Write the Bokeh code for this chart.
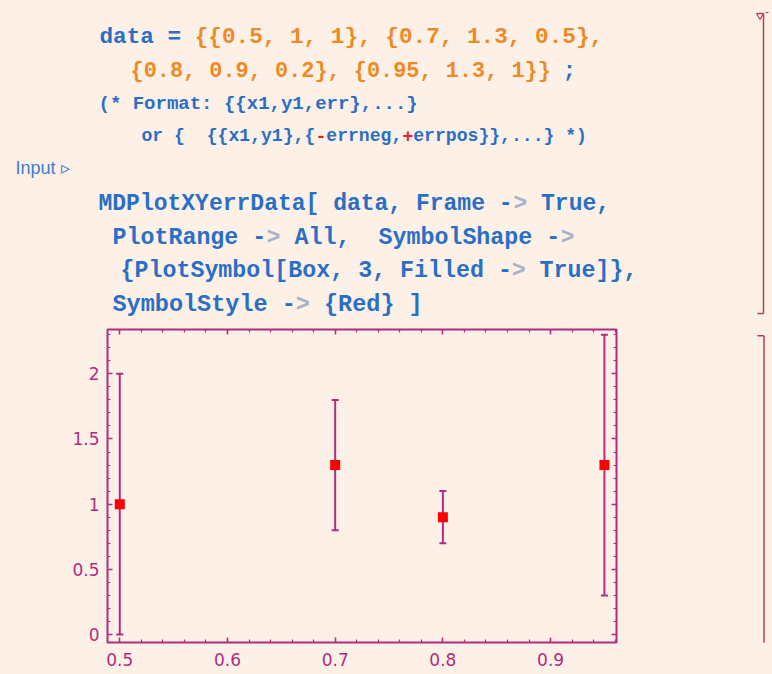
import re
import numpy as np
from bokeh.plotting import figure
from bokeh.layouts import column, row
from bokeh.models import (Range1d, FixedTicker, LinearAxis, Whisker, TeeHead, ColumnDataSource,
                          CustomJSTickFormatter)
from bokeh.core.properties import value
from bokeh.embed import file_html
from bokeh.resources import INLINE

# ---------------- data ----------------
x_vals = [0.5, 0.7, 0.8, 0.95]
y_vals = [1.0, 1.3, 0.9, 1.3]
err_vals = [1.0, 0.5, 0.2, 1.0]

x_ticks = [0.5, 0.6, 0.7, 0.8, 0.9]
x_tick_labels = ["0.5", "0.6", "0.7", "0.8", "0.9"]
y_ticks = [0, 0.5, 1, 1.5, 2]
y_tick_labels = ["0", "0.5", "1", "1.5", "2"]

# ---------------- colours ----------------
BG = "#FDF1E7"
MAG = "#B02C80"
BLUE = "#2A6FC4"
ORANGE = "#EE8A26"
GRAY = "#A7B3C6"
RED = "#E8202A"
BRK = "#B0405A"

# ---------------- code text of the notebook cell ----------------
code_lines = [
    # (x start, baseline, char width, font size, segments)
    (99, 36, 13.6, 22.7, [("data = ", BLUE), ("{{0.5, 1, 1}, {0.7, 1.3, 0.5},", ORANGE)]),
    (130, 71, 13.1, 21.9, [("{0.8, 0.9, 0.2}, {0.95, 1.3, 1}}", ORANGE), (" ;", BLUE)]),
    (98, 103, 11.4, 19.0, [("(* Format: {{x1,y1,err},...}", BLUE)]),
    (141, 135, 10.87, 18.1, [("or {  {{x1,y1},{", BLUE), ("-", RED), ("errneg,", BLUE),
                             ("+", RED), ("errpos}},...} *)", BLUE)]),
    (98, 203, 13.83, 23.0, [("MDPlotXYerrData[ data, Frame -", BLUE), (">", GRAY), (" True,", BLUE)]),
    (112, 237, 14.0, 23.3, [("PlotRange -", BLUE), (">", GRAY), (" All,  SymbolShape -", BLUE), (">", GRAY)]),
    (120, 270, 13.97, 23.3, [("{PlotSymbol[Box, 3, Filled -", BLUE), (">", GRAY), (" True]},", BLUE)]),
    (112, 304, 14.1, 23.5, [("SymbolStyle -", BLUE), (">", GRAY), (" {Red} ]", BLUE)]),
]
input_label = "Input ▹"

TOTAL_W, TOTAL_H = 772, 674
TOP_H = 321          # height of the code (text) panel
STRIP_W = 22         # right strip holding the output cell bracket
BG_STYLE = {"background-color": BG}


def blank_fig(w, h, xr, yr):
    f = figure(width=w, height=h, output_backend="svg", toolbar_location=None,
               x_range=Range1d(*xr), y_range=Range1d(*yr),
               min_border=0, min_border_left=0, min_border_right=0,
               min_border_top=0, min_border_bottom=0,
               x_axis_location=None, y_axis_location=None, styles=BG_STYLE)
    f.background_fill_color = BG
    f.border_fill_color = BG
    f.outline_line_color = None
    f.xgrid.visible = False
    f.ygrid.visible = False
    return f


# ---------------- top panel: the input cell ----------------
top = blank_fig(TOTAL_W, TOP_H, (0, TOTAL_W), (TOP_H, 0))

tx, ty, tt, tc, ts = [], [], [], [], []
for X0, Yb, cw, fs, segs in code_lines:
    off = 0
    for txt, col in segs:
        for m in re.finditer(r"\S+(?: \S+)*", txt):
            tx.append(X0 + (off + m.start()) * cw)
            ty.append(Yb)
            tt.append(m.group(0))
            tc.append(col)
            ts.append(f"{fs}px")
        off += len(txt)
code_src = ColumnDataSource(dict(x=tx, y=ty, text=tt, color=tc, size=ts))
top.text("x", "y", text="text", source=code_src, text_color="color", text_font_size="size",
         text_font=value("Liberation Mono"), text_font_style="bold",
         text_baseline="alphabetic", text_align="left")

top.text([15], [167], text=[input_label], text_color="#3F7DC9", text_font_size="18px",
         text_font=value("Liberation Sans"), text_baseline="alphabetic", text_align="left")

# input cell bracket
top.segment(x0=[763, 757, 757], y0=[13, 13, 313], x1=[763, 763, 763], y1=[313, 13, 313],
            line_color=BRK, line_width=1.5)
top.patch([756, 763, 759.5], [13, 13, 19], fill_color=None, line_color=BRK, line_width=1.2)
top.segment(x0=[765], y0=[12], x1=[768], y1=[12], line_color=BRK, line_width=1.2)

# ---------------- chart panel ----------------
CH_H = TOTAL_H - TOP_H
CH_W = TOTAL_W - STRIP_W
p = figure(width=CH_W, height=CH_H, output_backend="svg", toolbar_location=None,
           x_range=Range1d(0.4886, 0.9612), y_range=Range1d(-0.0614, 2.340),
           min_border_left=107, min_border_right=CH_W - 616, min_border_top=329 - TOP_H,
           min_border_bottom=TOTAL_H - 642,
           x_axis_location=None, y_axis_location=None, styles=BG_STYLE)
p.background_fill_color = BG
p.border_fill_color = BG
p.outline_line_color = MAG
p.outline_line_width = 2
p.outline_line_alpha = 1
p.xgrid.visible = False
p.ygrid.visible = False

x_minor = [round(v, 2) for v in np.arange(0.48, 0.97, 0.02)]
y_minor = [round(v, 1) for v in np.arange(0.0, 2.35, 0.1)]


def make_axis(loc, ticks, minor, labels, show):
    ax = LinearAxis()
    ax.ticker = FixedTicker(ticks=ticks, minor_ticks=minor)
    ax.axis_line_color = None
    ax.major_tick_line_color = MAG
    ax.major_tick_line_width = 1.5
    ax.major_tick_in = 5
    ax.major_tick_out = 0
    ax.minor_tick_line_color = MAG
    ax.minor_tick_line_width = 1.2
    ax.minor_tick_in = 3
    ax.minor_tick_out = 0
    if show:
        ax.formatter = CustomJSTickFormatter(
            args=dict(tvals=ticks, tlabels=labels),
            code="const i = tvals.findIndex(t => Math.abs(t - tick) < 1e-9); return i >= 0 ? tlabels[i] : '';")
        ax.major_label_text_color = MAG
        ax.major_label_text_font = "DejaVu Sans"
        ax.major_label_text_font_size = "17px"
        ax.major_label_standoff = 10 if loc == "below" else 8
    else:
        ax.formatter = CustomJSTickFormatter(code="return '';")
        ax.major_label_text_font_size = "0px"
        ax.major_label_standoff = 0
    p.add_layout(ax, loc)
    return ax


make_axis("below", x_ticks, x_minor, x_tick_labels, True)
make_axis("above", x_ticks, x_minor, x_tick_labels, False)
make_axis("left", y_ticks, y_minor, y_tick_labels, True)
make_axis("right", y_ticks, y_minor, y_tick_labels, False)

src = ColumnDataSource(dict(
    x=x_vals, y=y_vals,
    lower=[y - e for y, e in zip(y_vals, err_vals)],
    upper=[y + e for y, e in zip(y_vals, err_vals)],
))
whisk = Whisker(base="x", lower="lower", upper="upper", source=src, dimension="height",
                line_color=MAG, line_width=2,
                upper_head=TeeHead(size=7, line_color=MAG, line_width=2),
                lower_head=TeeHead(size=7, line_color=MAG, line_width=2))
p.add_layout(whisk)
p.scatter("x", "y", source=src, marker="square", size=10, fill_color="red", line_color=None)

# ---------------- right strip: output cell bracket ----------------
strip = blank_fig(STRIP_W, CH_H, (CH_W, TOTAL_W), (TOTAL_H, TOP_H))
strip.segment(x0=[763.5, 757], y0=[328, 328], x1=[763.5, 763.5], y1=[TOTAL_H + 2, 328],
              line_color=BRK, line_width=1.5)

layout = column(top, row(p, strip, spacing=0, styles=BG_STYLE), spacing=0, styles=BG_STYLE)

open("out.html", "w").write(file_html(layout, INLINE))
